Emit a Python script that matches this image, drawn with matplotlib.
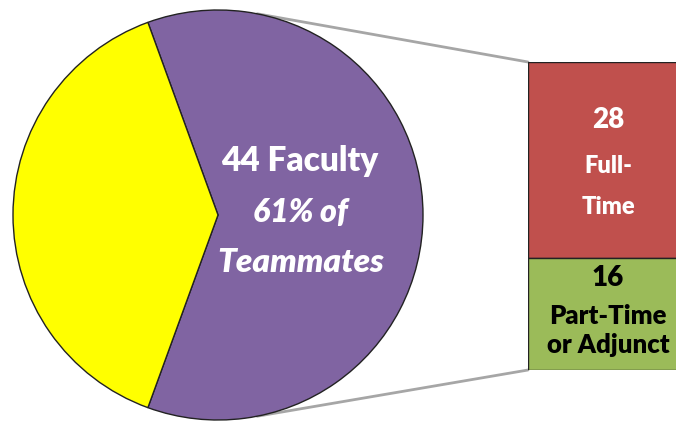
import numpy as np
import matplotlib.pyplot as plt
from matplotlib.patches import ConnectionPatch

# pie: faculty vs everyone else
pie_labels = ['Faculty', 'Other']
pie_values = [44, 28]
pie_colors = ['#8064A2', '#FFFF00']

# bar of pie: faculty split
bar_labels = ['Full-\nTime', 'Part-Time\nor Adjunct']
bar_values = [28, 16]
bar_colors = ['#C0504D', '#9BBB59']

W, H = 676, 422
fig = plt.figure(figsize=(W / 100, H / 100), dpi=100)
ax = fig.add_axes([0, 0, 1, 1])

cx, cy, r = 218, H - 215, 205
ax.pie(pie_values, colors=pie_colors, startangle=-110, counterclock=True,
       center=(cx, cy), radius=r, frame=True,
       wedgeprops=dict(edgecolor='#222222', linewidth=1))
ax.set_xlim(0, W)
ax.set_ylim(0, H)
ax.axis('off')

font = ['Lato', 'DejaVu Sans']
wt = 'heavy'
ax.text(300, H - 161, '%d Faculty' % pie_values[0], color='white', fontsize=24,
        fontweight=wt, ha='center', va='center', family=font)
pct = round(100 * pie_values[0] / sum(pie_values))
ax.text(300, H - 213, '%d%% of' % pct, color='white', fontsize=23,
        fontweight=wt, style='italic', ha='center', va='center', family=font)
ax.text(301, H - 262, 'Teammates', color='white', fontsize=24,
        fontweight=wt, style='italic', ha='center', va='center', family=font)

# stacked bar on its own axes
bx0, bx1 = 528, 688
by0, by1 = H - 370, H - 62
bax = fig.add_axes([bx0 / W, by0 / H, (bx1 - bx0) / W, (by1 - by0) / H])
total = sum(bar_values)
bottom = total
for val, col in zip(bar_values, bar_colors):
    bottom -= val
    bax.bar(0, val, bottom=bottom, width=1, align='edge', color=col,
            edgecolor='#222222', linewidth=1)
bax.set_xlim(0, 1)
bax.set_ylim(0, total)
bax.axis('off')

# labels inside bars
bax.text(0.5, total - 28 * (58 / 196), '28', color='white', fontsize=20,
         fontweight=wt, ha='center', va='center', family=font)
bax.text(0.5, total - 28 * (104 / 196), 'Full-', color='white', fontsize=17,
         fontweight=wt, ha='center', va='center', family=font)
bax.text(0.5, total - 28 * (145 / 196), 'Time', color='white', fontsize=17,
         fontweight=wt, ha='center', va='center', family=font)
bax.text(0.5, bar_values[1] * (92 / 112), '16', color='black', fontsize=20,
         fontweight=wt, ha='center', va='center', family=font)
bax.text(0.5, bar_values[1] * (54 / 112), 'Part-Time', color='black', fontsize=18.5,
         fontweight=wt, ha='center', va='center', family=font)
bax.text(0.5, bar_values[1] * (25 / 112), 'or Adjunct', color='black', fontsize=18.5,
         fontweight=wt, ha='center', va='center', family=font)

# connector lines from pie edge to bar corners
for ang, ybar in [(79, total), (-79, 0)]:
    px = cx + r * np.cos(np.radians(ang))
    py = cy + r * np.sin(np.radians(ang))
    con = ConnectionPatch(xyA=(px, py), coordsA=ax.transData,
                          xyB=(0, ybar), coordsB=bax.transData,
                          color='#A6A6A6', linewidth=2, zorder=0)
    fig.add_artist(con)

fig.savefig('out.png', dpi=100)
